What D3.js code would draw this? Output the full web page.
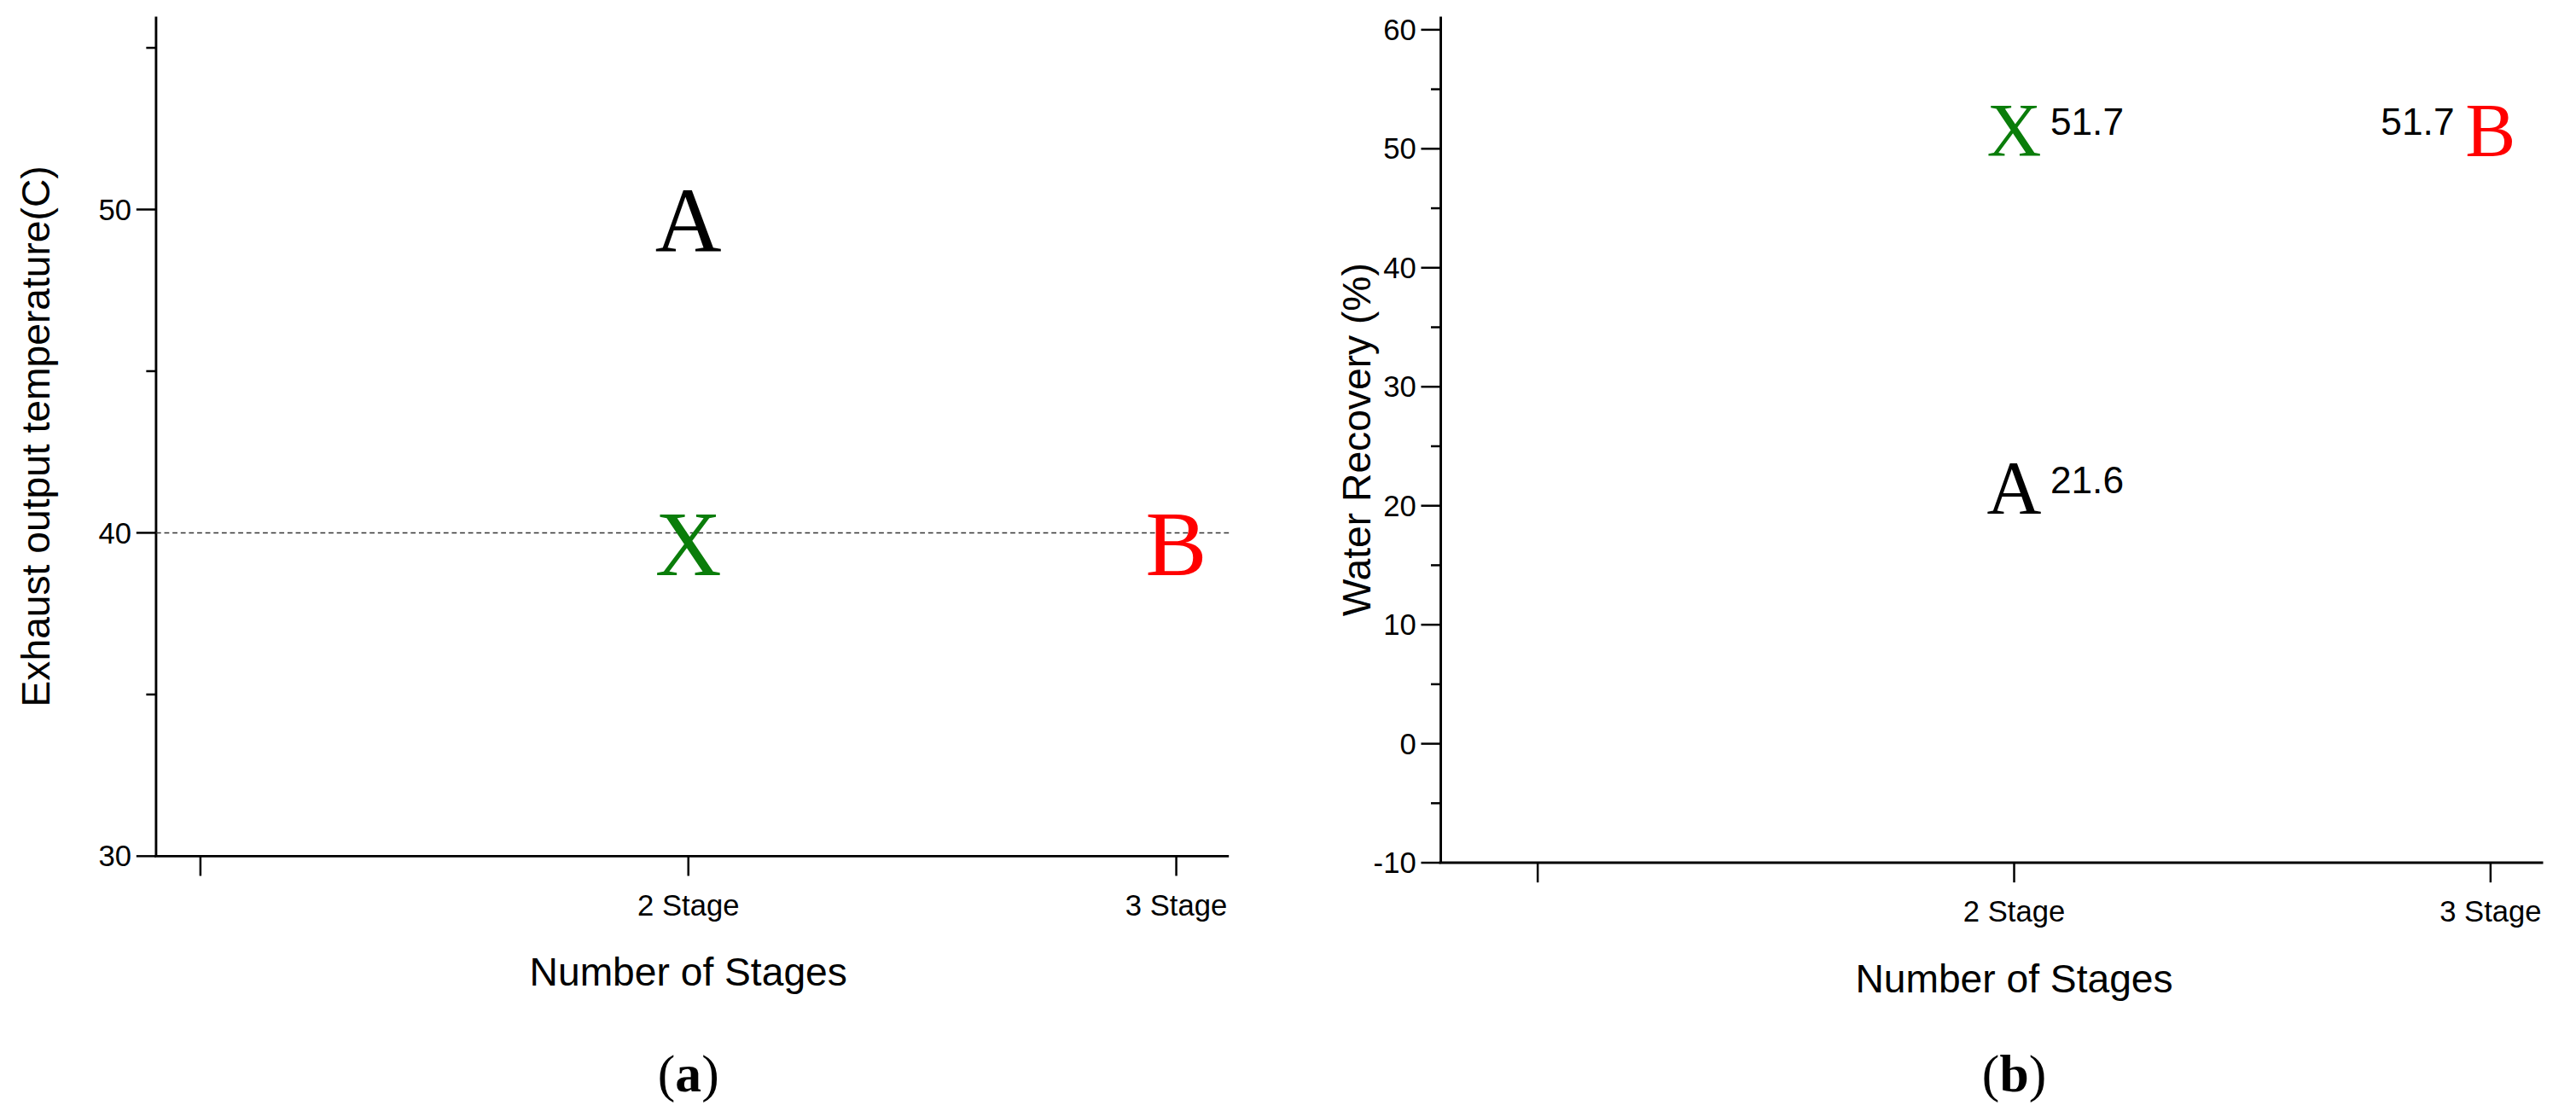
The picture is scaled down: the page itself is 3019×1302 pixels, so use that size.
<!DOCTYPE html>
<html><head><meta charset="utf-8">
<script src="https://cdn.jsdelivr.net/npm/d3@7"></script>
<style>body{margin:0;background:#fff}</style></head>
<body><div id="chart"></div>
<script>
const categories = ["", "2 Stage", "3 Stage"];
// panel a: exhaust output temperature
const tempPoints = [
  {label: "A", stage: "2 Stage", value: 49.7, color: "#000"},
  {label: "X", stage: "2 Stage", value: 39.7, color: "#0a7d0a"},
  {label: "B", stage: "3 Stage", value: 39.7, color: "#ff0000"}
];
const tempTicks = [30, 40, 50];
const tempMinor = [35, 45, 55];
const tempRef = 40;
// panel b: water recovery
const recPoints = [
  {label: "X", stage: "2 Stage", value: 51.7, color: "#0a7d0a", text: "51.7", side: "right"},
  {label: "A", stage: "2 Stage", value: 21.6, color: "#000", text: "21.6", side: "right"},
  {label: "B", stage: "3 Stage", value: 51.7, color: "#ff0000", text: "51.7", side: "left"}
];
const recTicks = [-10, 0, 10, 20, 30, 40, 50, 60];
const recMinor = [-5, 5, 15, 25, 35, 45, 55];

const svg = d3.select("#chart").append("svg")
  .attr("width", 3019).attr("height", 1302)
  .attr("viewBox", "0 0 1568 676");

const sans = "Arial, 'Liberation Sans', sans-serif";
const serif = "'Times New Roman', 'Liberation Serif', serif";

function panel(cfg) {
  const g = svg.append("g");
  const x = d3.scalePoint().domain(categories).range([cfg.x0 + cfg.pad, cfg.x1 - 32]);
  const y = d3.scaleLinear().domain(cfg.domain).range([cfg.y1, cfg.y0]);

  g.append("line").attr("x1", cfg.x0).attr("x2", cfg.x0).attr("y1", 10).attr("y2", cfg.y1)
    .attr("stroke", "#000").attr("stroke-width", 1.5);
  g.append("line").attr("x1", cfg.x0 - 1).attr("x2", cfg.x1).attr("y1", cfg.y1).attr("y2", cfg.y1)
    .attr("stroke", "#000").attr("stroke-width", 1.5);

  cfg.ticks.forEach(t => {
    g.append("line").attr("x1", cfg.x0 - 12).attr("x2", cfg.x0).attr("y1", y(t)).attr("y2", y(t))
      .attr("stroke", "#000").attr("stroke-width", 1.3);
    g.append("text").attr("x", cfg.x0 - 15).attr("y", y(t)).attr("dy", "0.35em")
      .attr("text-anchor", "end").attr("font-family", sans).attr("font-size", 18).text(t);
  });
  cfg.minor.forEach(t => {
    g.append("line").attr("x1", cfg.x0 - 6).attr("x2", cfg.x0).attr("y1", y(t)).attr("y2", y(t))
      .attr("stroke", "#000").attr("stroke-width", 1.3);
  });

  categories.forEach(c => {
    g.append("line").attr("x1", x(c)).attr("x2", x(c)).attr("y1", cfg.y1).attr("y2", cfg.y1 + 12)
      .attr("stroke", "#000").attr("stroke-width", 1.3);
    g.append("text").attr("x", x(c)).attr("y", cfg.y1 + 36).attr("text-anchor", "middle")
      .attr("font-family", sans).attr("font-size", 18).text(c);
  });

  g.append("text").attr("x", x("2 Stage")).attr("y", cfg.y1 + 79).attr("text-anchor", "middle")
    .attr("font-family", sans).attr("font-size", 24).text("Number of Stages");
  g.append("text").attr("transform", `translate(${cfg.titleX},${(10 + cfg.y1) / 2}) rotate(-90)`)
    .attr("text-anchor", "middle").attr("font-family", sans).attr("font-size", 24).text(cfg.yTitle);
  const cap = g.append("text").attr("x", x("2 Stage")).attr("y", 664).attr("text-anchor", "middle")
    .attr("font-family", serif).attr("font-size", 32);
  cap.append("tspan").text("(");
  cap.append("tspan").attr("font-weight", "bold").text(cfg.caption);
  cap.append("tspan").text(")");

  if (cfg.ref !== undefined) {
    g.append("line").attr("x1", cfg.x0).attr("x2", cfg.x1).attr("y1", y(cfg.ref)).attr("y2", y(cfg.ref))
      .attr("stroke", "#333").attr("stroke-width", 0.8).attr("stroke-dasharray", "3,2");
  }

  g.selectAll(".pt").data(cfg.points).join("text")
    .attr("x", d => x(d.stage)).attr("y", d => y(d.value)).attr("dy", "0.35em")
    .attr("text-anchor", "middle").attr("font-family", serif).attr("font-size", cfg.markSize)
    .attr("fill", d => d.color).text(d => d.label);

  g.selectAll(".val").data(cfg.points.filter(d => d.text)).join("text")
    .attr("x", d => x(d.stage) + (d.side === "right" ? 22 : -22))
    .attr("y", d => y(d.value) + 4)
    .attr("text-anchor", d => d.side === "right" ? "start" : "end")
    .attr("font-family", sans).attr("font-size", 23).text(d => d.text);
}

panel({x0: 95, x1: 748, pad: 27, y0: 29, y1: 521, domain: [30, 55], ticks: tempTicks, minor: tempMinor,
  points: tempPoints, ref: tempRef, yTitle: "Exhaust output temperature(C)", titleX: 30, caption: "a", markSize: 56});
panel({x0: 877, x1: 1548, pad: 59, y0: 18, y1: 525, domain: [-10, 60], ticks: recTicks, minor: recMinor,
  points: recPoints, yTitle: "Water Recovery (%)", titleX: 834, caption: "b", markSize: 46});
</script></body></html>
